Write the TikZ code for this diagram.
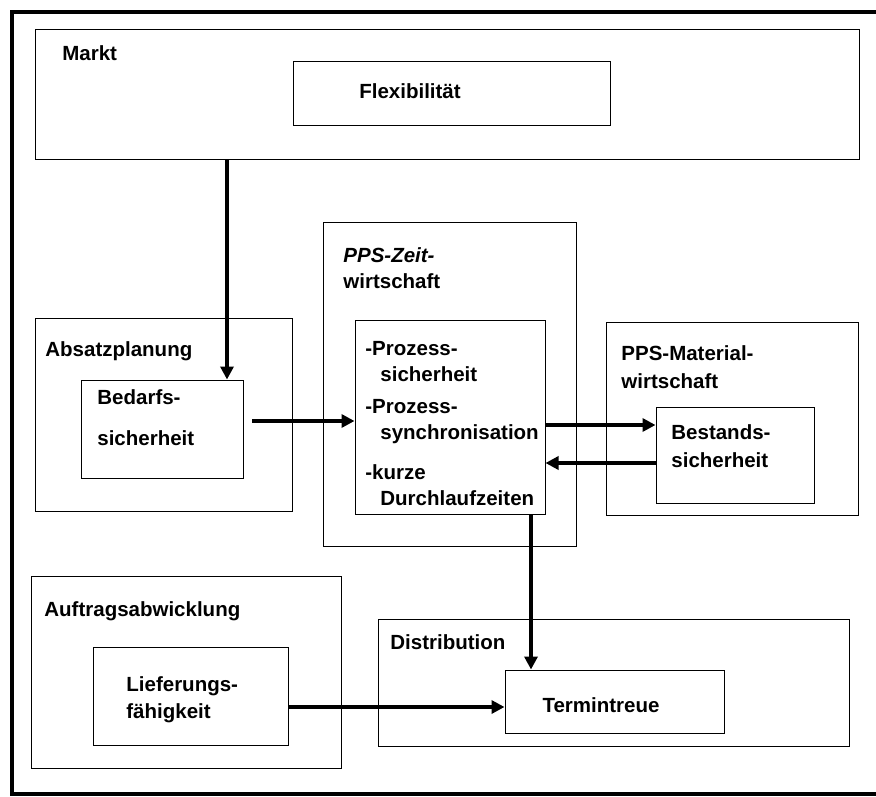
\documentclass[tikz,border=0pt]{standalone}
\usepackage{fontspec}
\setmainfont{Liberation Sans}
\usetikzlibrary{arrows.meta, fit}

\tikzset{
  box/.style={draw, line width=0.5pt, inner sep=0pt},
  lbl/.style={anchor=north west, inner sep=0pt, align=left,
    font=\bfseries\fontsize{10.25}{13}\selectfont},
  flow/.style={line width=2pt, -{Triangle[length=6.5pt, width=6.5pt]}},
}

\begin{document}
\begin{tikzpicture}[x=0.5pt, y=-0.5pt]
\useasboundingbox (0,0) rectangle (876,796);

% Rahmen (oben, links, unten)
\draw[line width=1.75pt] (876,12) -- (12,12) -- (12,794) -- (876,794);

% Markt
\node[box, fit={(35,30) (859,160)}] (markt) {};
\node[lbl] (marktlbl) at (62,45) {Markt};
\node[box, fit={(293,62) (610,126)}] (flex) {};
\node[lbl, anchor=center] (flexlbl) at (410,91) {Flexibilität};

% Absatzplanung
\node[box, fit={(35,318) (292,511)}] (absatz) {};
\node[lbl] (absatzlbl) at (45,341) {Absatzplanung};
\node[box, fit={(81,380) (243,478)}] (bedarf) {};
\node[lbl] (bedarflbl) at (97,389) {Bedarfs-\\[7.5pt]sicherheit};

% PPS-Zeitwirtschaft
\node[box, fit={(323,223) (576,546)}] (zeit) {};
\node[lbl] (zeitlbl) at (343,247) {\textit{PPS-Zeit-}\\wirtschaft};
\node[box, fit={(355,320) (545,514)}] (prozess) {};
\node[lbl] (prozesslbl) at (365,341) {-Prozess-\\\hspace*{7.5pt}sicherheit\\[3pt]-Prozess-\\\hspace*{7.5pt}synchronisation\\[7pt]-kurze\\\hspace*{7.5pt}Durchlaufzeiten};

% PPS-Materialwirtschaft
\node[box, fit={(606,322) (858,515)}] (material) {};
\node[lbl] (materiallbl) at (621,345) {PPS-Material-\\[1pt]wirtschaft};
\node[box, fit={(656,407) (814,503)}] (bestand) {};
\node[lbl] (bestandlbl) at (671,424) {Bestands-\\[1pt]sicherheit};

% Auftragsabwicklung
\node[box, fit={(31,576) (341,768)}] (auftrag) {};
\node[lbl] (auftraglbl) at (44,601) {Auftragsabwicklung};
\node[box, fit={(93,647) (288,745)}] (liefer) {};
\node[lbl] (lieferlbl) at (126,676) {Lieferungs-\\[0.5pt]fähigkeit};

% Distribution
\node[box, fit={(378,619) (849,746)}] (distrib) {};
\node[lbl] (distriblbl) at (390,634) {Distribution};
\node[box, fit={(505,670) (724,733)}] (termin) {};
\node[lbl, anchor=center] (terminlbl) at (601,705) {Termintreue};

% Hilfskoordinaten fuer die Pfeile
\coordinate (xm) at (227,0);
\coordinate (xd) at (531,0);
\coordinate (b1) at (252,421);
\coordinate (y1) at (0,425);
\coordinate (y2) at (0,463);
\coordinate (y3) at (0,707);

% Pfeile
\draw[flow] (markt.south -| xm) -- (bedarf.north -| xm);
\draw[flow] (b1) -- (b1 -| prozess.west);
\draw[flow] (prozess.east |- y1) -- (bestand.west |- y1);
\draw[flow] (bestand.west |- y2) -- (prozess.east |- y2);
\draw[flow] (prozess.south -| xd) -- (termin.north -| xd);
\draw[flow] (liefer.east |- y3) -- (termin.west |- y3);
\end{tikzpicture}
\end{document}
